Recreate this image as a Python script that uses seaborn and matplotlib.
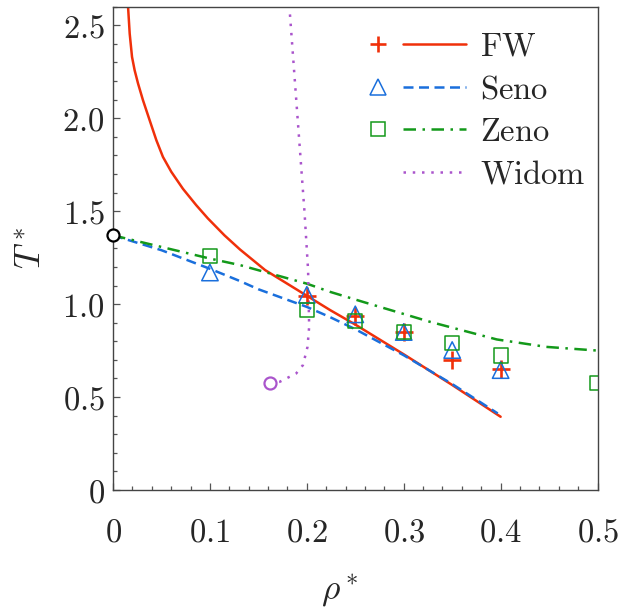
import numpy as np
import pandas as pd
import seaborn as sns
import matplotlib
matplotlib.use("Agg")
import matplotlib.pyplot as plt
from matplotlib.lines import Line2D
from matplotlib.legend_handler import HandlerTuple
from matplotlib.ticker import MultipleLocator, FixedLocator, FixedFormatter

# ---- coexistence curves -------------------------------------------------
fw_rho = [0.0155, 0.0172, 0.0196, 0.0223, 0.0258, 0.0309, 0.0378, 0.0447, 0.0515,
          0.0601, 0.0722, 0.0859, 0.0979, 0.115, 0.131, 0.157, 0.2, 0.224, 0.25,
          0.3, 0.35, 0.4]
fw_T = [2.60, 2.455, 2.33, 2.258, 2.187, 2.097, 1.989, 1.882, 1.792,
        1.712, 1.62, 1.532, 1.461, 1.37, 1.294, 1.183, 1.045, 0.968, 0.89,
        0.73, 0.565, 0.394]

seno_rho = [0.0, 0.05, 0.1, 0.131, 0.15, 0.2, 0.224, 0.25, 0.3, 0.35, 0.397]
seno_T = [1.37, 1.29, 1.19, 1.124, 1.08, 0.985, 0.93, 0.865, 0.725, 0.57, 0.412]

zeno_rho = [0.0, 0.1, 0.131, 0.2, 0.224, 0.258, 0.327, 0.396, 0.447, 0.5]
zeno_T = [1.37, 1.245, 1.21, 1.11, 1.066, 1.012, 0.905, 0.81, 0.77, 0.75]

widom_rho = [0.162, 0.172, 0.189, 0.196, 0.2007, 0.2024, 0.2013, 0.1976, 0.182]
widom_T = [0.574, 0.582, 0.627, 0.672, 0.770, 0.878, 1.183, 1.496, 2.6]

# ---- critical points ----------------------------------------------------
fw_pts_rho = [0.2, 0.25, 0.3, 0.35, 0.4]
fw_pts_T = [1.045, 0.935, 0.848, 0.70, 0.65]

seno_pts_rho = [0.1, 0.2, 0.25, 0.3, 0.35, 0.4]
seno_pts_T = [1.17, 1.05, 0.945, 0.85, 0.753, 0.645]

zeno_pts_rho = [0.1, 0.2, 0.25, 0.3, 0.35, 0.4, 0.5]
zeno_pts_T = [1.26, 0.97, 0.91, 0.85, 0.789, 0.724, 0.574]

start_rho = [0.0]
start_T = [1.37]

x_ticks = [0.0, 0.1, 0.2, 0.3, 0.4, 0.5]
x_ticklabels = ["$0$", "$0.1$", "$0.2$", "$0.3$", "$0.4$", "$0.5$"]
y_ticks = [0.0, 0.5, 1.0, 1.5, 2.0, 2.5]
y_ticklabels = ["$0$", "$0.5$", "$1.0$", "$1.5$", "$2.0$", "$2.5$"]
series_names = [r"$\mathrm{FW}$", r"$\mathrm{Seno}$", r"$\mathrm{Zeno}$", r"$\mathrm{Widom}$"]

RED = "#F0300A"
BLUE = "#1A6FDC"
GREEN = "#13991A"
PURPLE = "#AA55CC"

sns.set_style("white")
plt.rcParams["mathtext.fontset"] = "cm"
plt.rcParams["font.family"] = ["DejaVu Serif"]

FS = 23.5
LW = 1.8
fig = plt.figure(figsize=(6.19, 6.09), dpi=100)
ax = fig.add_axes([0.1826, 0.1954, 0.7827, 0.7936])

dash_seno = (0, (4.0, 2.2))
dash_zeno = (0, (5.0, 2.6, 1.0, 2.6))
dot_widom = (0, (1.0, 2.7))

sns.lineplot(x=fw_rho, y=fw_T, ax=ax, color=RED, lw=LW, sort=False, estimator=None)
sns.lineplot(x=seno_rho, y=seno_T, ax=ax, color=BLUE, lw=LW, linestyle=dash_seno,
             sort=False, estimator=None)
sns.lineplot(x=zeno_rho, y=zeno_T, ax=ax, color=GREEN, lw=LW, linestyle=dash_zeno,
             sort=False, estimator=None)
sns.lineplot(x=widom_rho, y=widom_T, ax=ax, color=PURPLE, lw=LW, linestyle=dot_widom,
             sort=False, estimator=None)

sns.scatterplot(x=fw_pts_rho, y=fw_pts_T, ax=ax, marker="+", s=150, color=RED,
                linewidth=1.9, zorder=4)
sns.scatterplot(x=seno_pts_rho, y=seno_pts_T, ax=ax, marker="^", s=140,
                facecolor="none", edgecolor=BLUE, linewidth=1.1, zorder=4)
sns.scatterplot(x=zeno_pts_rho, y=zeno_pts_T, ax=ax, marker="s", s=105,
                facecolor="none", edgecolor=GREEN, linewidth=1.1, zorder=4)
# open circles marking the ends of the curves
sns.scatterplot(x=widom_rho[:1], y=widom_T[:1], ax=ax, marker="o", s=75,
                facecolor="white", edgecolor=PURPLE, linewidth=1.6, zorder=4)
sns.scatterplot(x=start_rho, y=start_T, ax=ax, marker="o", s=75,
                facecolor="white", edgecolor="black", linewidth=1.6, zorder=5,
                clip_on=False)

ax.set_xlim(0, 0.5)
ax.set_ylim(0, 2.6)
ax.xaxis.set_major_locator(FixedLocator(x_ticks))
ax.xaxis.set_major_formatter(FixedFormatter(x_ticklabels))
ax.yaxis.set_major_locator(FixedLocator(y_ticks))
ax.yaxis.set_major_formatter(FixedFormatter(y_ticklabels))
ax.xaxis.set_minor_locator(MultipleLocator(0.02))
ax.yaxis.set_minor_locator(MultipleLocator(0.1))

for s in ax.spines.values():
    s.set_color("#444444")
    s.set_linewidth(1.0)
ax.tick_params(which="both", direction="in", color="#555555", width=0.9,
               left=True, bottom=True, top=False, right=False)
ax.tick_params(which="major", length=4.8)
ax.tick_params(which="minor", length=3.2)
ax.tick_params(axis="x", which="major", pad=19, labelsize=FS)
ax.tick_params(axis="y", which="major", pad=6, labelsize=FS)

ax.set_xlabel(r"$\rho^*$", fontsize=FS + 2)
ax.set_ylabel(r"$T^*$", fontsize=FS + 2, labelpad=10)
ax.xaxis.set_label_coords(0.468, -0.17)

# legend: marker and line side by side for each series
handles = [
    (Line2D([], [], ls="", marker="+", ms=12, mew=1.9, color=RED),
     Line2D([], [], color=RED, lw=LW)),
    (Line2D([], [], ls="", marker="^", ms=11, mew=1.1, mfc="none", mec=BLUE),
     Line2D([], [], color=BLUE, lw=LW, ls=dash_seno)),
    (Line2D([], [], ls="", marker="s", ms=10, mew=1.1, mfc="none", mec=GREEN),
     Line2D([], [], color=GREEN, lw=LW, ls=dash_zeno)),
    (Line2D([], [], ls=""),
     Line2D([], [], color=PURPLE, lw=LW, ls=dot_widom)),
]
ax.legend(handles, series_names, handler_map={tuple: HandlerTuple(ndivide=2, pad=-0.2)},
          loc="upper left", bbox_to_anchor=(0.482, 0.95), frameon=False,
          fontsize=FS, handlelength=3.66, handletextpad=0.43, labelspacing=0.32,
          borderpad=0, borderaxespad=0)

fig.savefig("out.png", dpi=100)
